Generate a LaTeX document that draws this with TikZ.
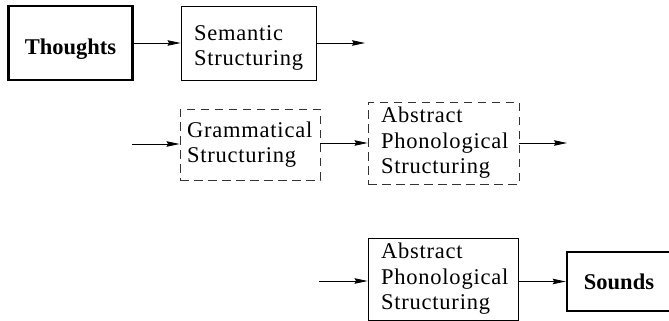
\documentclass[tikz,border=0pt]{standalone}
\usepackage{fontspec}
\usetikzlibrary{arrows.meta}

\newfontfamily\stagefont{Liberation Serif}[LetterSpace=3.5]
\newfontfamily\termfont{Liberation Serif}
\newcommand{\boxtext}{\stagefont\fontsize{22.5}{25.5}\selectfont}
\newcommand{\termtext}{\termfont\fontsize{22.5}{25}\selectfont\bfseries}

\tikzset{
	stage/.style={draw, line width=0.9pt, align=left, inner xsep=13pt, inner ysep=0pt, font=\boxtext},
	sketch/.style={stage, draw=black!80, dash pattern=on 8.5pt off 5.5pt},
	ends/.style={draw, line width=2.6pt, inner sep=0pt, font=\termtext},
	flow/.style={-{Stealth[length=13pt,width=5.5pt,inset=1.5pt]}, line width=0.8pt},
}

\begin{document}
\begin{tikzpicture}[x=1pt, y=-1pt]
		\useasboundingbox (0,0) rectangle (669,321) ;

		% first row
		\node[ends, minimum width=124pt, minimum height=74pt, text height=27pt] (thoughts) at (70.5,43) {Thoughts} ;
		\node[stage, text width=109pt, minimum height=74pt] (sem) at (248.5,43) {\rule{0pt}{25pt}Semantic\\Structuring} ;
		\coordinate (semout) at (365,43) ;

		% second row
		\coordinate (gramin) at (132,144) ;
		\node[sketch, inner xsep=7pt, text width=126pt, minimum height=71pt] (gram) at (250,144.5) {Grammatical\\Structuring} ;
		\node[sketch, text width=125pt, minimum height=82pt] (phon) at (443.5,143) {Abstract\\Phonological\\Structuring} ;
		\coordinate (phonout) at (567,143) ;

		% third row
		\coordinate (phonin) at (319,281) ;
		\node[stage, text width=124pt, minimum height=82pt] (phonb) at (443,279) {Abstract\\Phonological\\Structuring} ;
		\node[ends, minimum width=104pt, minimum height=59pt] (sounds) at (619,281.5) {Sounds} ;

		\draw[flow] (thoughts) -- (sem) ;
		\draw[flow] (sem) -- (semout) ;
		\draw[flow] (gramin) -- (gramin -| gram.west) ;
		\draw[flow] (gram.east |- phon) -- (phon) ;
		\draw[flow] (phon) -- (phonout) ;
		\draw[flow] (phonin) -- (phonin -| phonb.west) ;
		\draw[flow] (phonb.east |- sounds) -- (sounds) ;
	\end{tikzpicture}
\end{document}
